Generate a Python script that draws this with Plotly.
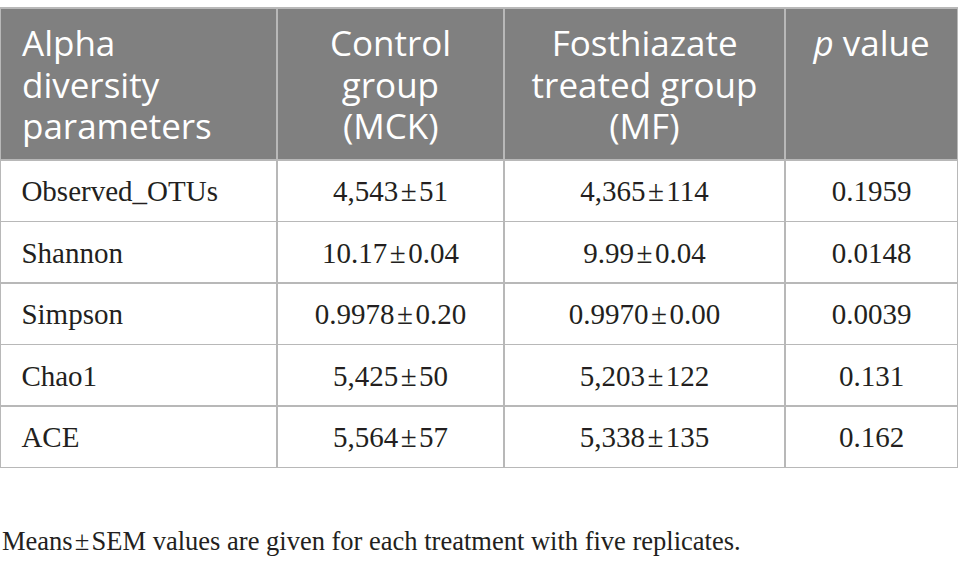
import math
import plotly.graph_objects as go

header_lines = [["Alpha", "diversity", "parameters"], ["Control", "group", "(MCK)"],
                ["Fosthiazate", "treated group", "(MF)"], ["<i>p</i> value"]]
params = ["Observed_OTUs", "Shannon", "Simpson", "Chao1", "ACE"]
control = ["4,543\u200a±\u200a51", "10.17\u200a±\u200a0.04", "0.9978\u200a±\u200a0.20",
           "5,425\u200a±\u200a50", "5,564\u200a±\u200a57"]
treated = ["4,365\u200a±\u200a114", "9.99\u200a±\u200a0.04", "0.9970\u200a±\u200a0.00",
           "5,203\u200a±\u200a122", "5,338\u200a±\u200a135"]
pvals = ["0.1959", "0.0148", "0.0039", "0.131", "0.162"]
footnote = "Means\u200a±\u200aSEM values are given for each treatment with five replicates."

# ---- text styling helpers (layout only) ----
HEAD_BASE = 32     # sets the header line spacing (1.3 x base)
HEAD_TEXT = 35     # visible header glyph size
HEAD_LIFT = 37.4   # tall invisible space on first line pushes header text down
BODY_SIZE = 29
BODY_LIFT = 37.6   # tall invisible space pushes body text to row middle
NBSP_OS = 0.26     # Open Sans no-break-space advance (em)
NBSP_LS = 0.25     # Liberation Serif no-break-space advance (em)

# Open Sans advance widths (em) for centring each header line
OS_W = {"A": .633, "C": .631, "F": .516, "K": .596, "M": .903, "a": .556, "d": .613,
        "e": .561, "g": .548, "h": .614, "i": .253, "l": .253, "n": .614, "o": .604,
        "p": .613, "r": .408, "s": .477, "t": .353, "u": .614, "v": .501, "y": .503,
        "z": .464, "(": .295, ")": .295, " ": .26}


def span(px, s):
    return "<span style='font-size:%.2fpx'>%s</span>" % (px, s)


def pad(p, em=NBSP_OS, maxpx=30.0):
    if p < 0.5:
        return ""
    n = max(1, math.ceil(p / (em * maxpx)))
    return span(p / (em * n), "\u00a0" * n)


def width(s):
    return sum(OS_W.get(ch, .55) for ch in s) * HEAD_TEXT


T = NBSP_OS * HEAD_LIFT


def head_left(lines, lead=14.0):
    out = []
    for k, ln in enumerate(lines):
        if k == 0:
            out.append(span(HEAD_LIFT, "\u00a0") + pad(lead - T) + span(HEAD_TEXT, ln))
        else:
            out.append(pad(lead) + span(HEAD_TEXT, ln))
    return "<br>".join(out) + "<br>"


def head_center(lines):
    ws = [width(ln.replace("<i>", "").replace("</i>", "")) for ln in lines]
    wmax = max(ws)
    full = wmax + 2 * T
    widest = ws.index(wmax)
    out = []
    for k, (ln, w) in enumerate(zip(lines, ws)):
        lead = (full - w) / 2
        if k == 0:
            s = span(HEAD_LIFT, "\u00a0") + pad(lead - T)
        else:
            s = pad(lead)
        s += span(HEAD_TEXT, ln)
        if k == widest:
            s += pad(T)
        out.append(s)
    return "<br>".join(out) + "<br>"


def body(s, left):
    if left:
        s = span(BODY_LIFT, "\u00a0") + pad(4, NBSP_LS) + s
    else:
        s = span(BODY_LIFT, "\u00a0") + s + span(BODY_LIFT, "\u00a0")
    return s + "<br>"   # a line break keeps plotly from word-wrapping the markup


header_vals = [head_left(header_lines[0])] + [head_center(l) for l in header_lines[1:]]
cols = [[body(v, i == 0) for v in col] for i, col in enumerate((params, control, treated, pvals))]

fig = go.Figure(go.Table(
    columnwidth=[277, 227, 281, 173],
    header=dict(
        values=header_vals,
        fill_color="#808080",
        line_color="#b8b8b8",
        line_width=1.5,
        align=["left", "center", "center", "center"],
        font=dict(family="Open Sans", size=HEAD_BASE, color="white"),
        height=152,
    ),
    cells=dict(
        values=cols,
        fill_color="white",
        line_color="#b8b8b8",
        line_width=1.5,
        align=["left", "center", "center", "center"],
        font=dict(family="Liberation Serif", size=BODY_SIZE, color="#231f20"),
        height=61.5,
    ),
    domain=dict(x=[0, 1], y=[0, 1]),
))

fig.add_annotation(text=footnote, x=0, xref="paper", xanchor="left",
                   y=0, yref="paper", yanchor="middle", showarrow=False,
                   font=dict(family="Liberation Serif", size=26.5, color="#231f20"))

fig.update_layout(
    width=958, height=574,
    margin=dict(l=0, r=0, t=8, b=0),
    paper_bgcolor="white",
)
fig.layout.annotations[0].y = 1 - (541 - 8) / (574 - 8)

fig.write_html("out.html", config={"displayModeBar": False},
               post_script="document.body.style.margin='0';")
